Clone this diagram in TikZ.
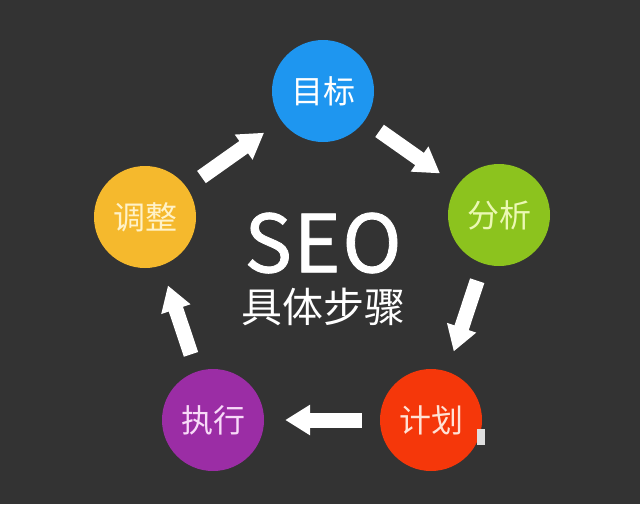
\documentclass[tikz,border=0pt]{standalone}
\usepackage{fontspec}
\newfontfamily\cjk{Noto Sans CJK SC}
\newfontfamily\seofont[LetterSpace=2,FakeBold=1]{Noto Sans CJK SC}
\usetikzlibrary{arrows.meta}

\definecolor{bgdark}{HTML}{333333}
\definecolor{goalblue}{HTML}{1E96F0}
\definecolor{analysegreen}{HTML}{8CC31E}
\definecolor{planred}{HTML}{F5370A}
\definecolor{execpurple}{HTML}{9B2DA5}
\definecolor{adjustyellow}{HTML}{F5B92D}

\begin{document}
\begin{tikzpicture}[x=1pt, y=-1pt,
    step circle/.style={circle, minimum size=102pt, inner sep=0pt,
        font=\cjk\fontsize{32}{32}\selectfont},
    flow arrow/.style={white, line width=15pt,
        -{Triangle[width=29pt,length=25pt]},
        shorten <=18pt, shorten >=21pt}]

    % Background and fixed frame
    \fill[bgdark] (0,0) rectangle (640,504);
    \useasboundingbox (0,0) rectangle (640,504);

    % The five steps round the centre
    \node[step circle, fill=goalblue, text=white] (goal) at (323,91) {目标};
    \node[step circle, fill=analysegreen, text={rgb,255:red,235;green,248;blue,180}] (analyse) at (499,215) {分析};
    \node[step circle, fill=planred, text={rgb,255:red,255;green,226;blue,214}] (plan) at (431,420) {计划};
    \node[step circle, fill=execpurple, text={rgb,255:red,248;green,218;blue,248}] (exec) at (213,420) {执行};
    \node[step circle, fill=adjustyellow, text={rgb,255:red,255;green,242;blue,200}] (adjust) at (145,217) {调整};

    % Title in the middle
    \node[white, font=\seofont\fontsize{80}{80}\selectfont] (title) at (323,243) {SEO};
    \node[white, font=\cjk\fontsize{41}{41}\selectfont] (subtitle) at (323,307) {具体步骤};

    % Arrows from one step to the next
    \draw[flow arrow] (adjust) -- (goal);
    \draw[flow arrow] (goal) -- (analyse);
    \draw[flow arrow] (analyse) -- (plan);
    \draw[flow arrow] (plan) -- (exec);
    \draw[flow arrow] (exec) -- (adjust);

    % Small light mark beside the plan circle
    \fill[gray!25] (477,429) rectangle (485,445);

\end{tikzpicture}
\end{document}
